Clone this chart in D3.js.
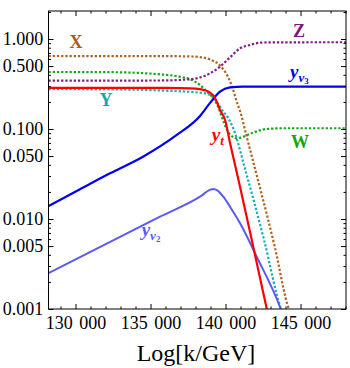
<!DOCTYPE html>
<html lang="en">
<head>
<meta charset="UTF-8" />
<title>Couplings vs Log[k/GeV]</title>
<script src="https://d3js.org/d3.v7.min.js"></script>
<style>
    body { margin: 0; background: #fff; }
    svg { display: block; }
    text { font-family: "Liberation Serif", "DejaVu Serif", serif; }
</style>
</head>
<body>
<svg id="chart" width="350" height="368"></svg>
<script>
    // Log[k/GeV] positions and values
    const kX = [128200, 136000, 137630, 138300, 138970, 139630, 140170, 140500, 140770, 140970, 141410, 143300, 144230, 144450];
    const vX = [0.647, 0.645, 0.640, 0.630, 0.592, 0.508, 0.378, 0.275, 0.195, 0.158, 0.0821, 0.00476, 0.001, 0.00085];

    const kZ = [128200, 135600, 137630, 138970, 139630, 140300, 140970, 141630, 142300, 143400, 148100];
    const vZ = [0.344, 0.346, 0.357, 0.416, 0.492, 0.625, 0.788, 0.858, 0.910, 0.919, 0.920];

    const kW = [128200, 132300, 135630, 136970, 137630, 138300, 138750, 139170, 139500, 139830, 140170, 140750, 141170, 141830, 142750, 144000, 148100];
    const vW = [0.430, 0.428, 0.405, 0.381, 0.357, 0.308, 0.260, 0.221, 0.177, 0.126, 0.0933, 0.0788, 0.0821, 0.0910, 0.100, 0.102, 0.102];

    const kY = [128200, 133000, 135630, 138300, 138970, 139410, 139770, 140170, 140630, 141230, 142570, 143700, 143900];
    const vY = [0.277, 0.275, 0.268, 0.253, 0.2385, 0.201, 0.163, 0.1325, 0.0903, 0.0398, 0.00584, 0.001, 0.00083];

    const kYt = [128200, 133000, 136000, 137630, 138300, 138970, 139300, 139500, 139630, 139970, 140300, 140970, 141750, 142750, 142950];
    const vYt = [0.287, 0.287, 0.286, 0.283, 0.277, 0.253, 0.221, 0.185, 0.163, 0.126, 0.070, 0.0227, 0.00584, 0.001, 0.0007];

    const kYv3 = [128200, 130300, 132300, 134500, 136750, 138300, 138970, 139630, 140300, 141170, 148100];
    const vYv3 = [0.0139, 0.0214, 0.0322, 0.0492, 0.0858, 0.1395, 0.195, 0.260, 0.290, 0.295, 0.295];

    const kYv2 = [128200, 135630, 138300, 139000, 139200, 139450, 139850, 140300, 140970, 142080, 143680, 143900];
    const vYv2 = [0.0025, 0.0106, 0.0177, 0.0212, 0.0216, 0.0208, 0.0177, 0.0137, 0.00896, 0.00381, 0.001, 0.00079];

    const xTickValues = [130000, 135000, 140000, 145000];
    const yTickValues = [0.001, 0.005, 0.01, 0.05, 0.1, 0.5, 1];

    const plotL = 48.5, plotR = 346, plotT = 11, plotB = 309;

    const svg = d3.select("#chart");

    const x = d3.scaleLinear().domain([128200, 148030]).range([plotL, plotR]);
    const y = d3.scaleLog().domain([0.001, 2.047]).range([plotB, plotT]);

    const xMinor = d3.range(129000, 148031, 1000).filter(v => v % 5000 !== 0);
    const yMinor = [];
    [0.001, 0.01, 0.1, 1].forEach(d => {
        [2, 3, 4, 6, 7, 8, 9].forEach(m => {
            const v = d * m;
            if (v < y.domain()[1]) yMinor.push(v);
        });
    });

    const fmtK = v => d3.format(",")(v).replace(",", " ");
    const fmtY = d3.format(".3f");

    function styleAxis(sel) {
        sel.select(".domain").remove();
        sel.selectAll("line").attr("stroke", "#000");
        sel.selectAll("text")
            .attr("font-family", "'Liberation Serif', serif")
            .attr("font-size", 18)
            .attr("fill", "#000");
    }

    // major ticks with labels
    svg.append("g")
        .attr("transform", `translate(0,${plotB})`)
        .call(d3.axisBottom(x).tickValues(xTickValues).tickSize(-5).tickPadding(7.5).tickFormat(fmtK))
        .call(styleAxis)
        .selectAll("text").attr("word-spacing", "2px");
    svg.append("g")
        .attr("transform", `translate(${plotL},0)`)
        .call(d3.axisLeft(y).tickValues(yTickValues).tickSize(-5).tickPadding(5.2).tickFormat(fmtY))
        .call(styleAxis);

    // mirrored and minor ticks
    svg.append("g").attr("transform", `translate(0,${plotT})`)
        .call(d3.axisTop(x).tickValues(xTickValues).tickSize(-5).tickFormat(""))
        .call(styleAxis);
    svg.append("g").attr("transform", `translate(${plotR},0)`)
        .call(d3.axisRight(y).tickValues(yTickValues).tickSize(-5).tickFormat(""))
        .call(styleAxis);
    svg.append("g").attr("transform", `translate(0,${plotB})`)
        .call(d3.axisBottom(x).tickValues(xMinor).tickSize(-2.5).tickFormat(""))
        .call(styleAxis);
    svg.append("g").attr("transform", `translate(0,${plotT})`)
        .call(d3.axisTop(x).tickValues(xMinor).tickSize(-2.5).tickFormat(""))
        .call(styleAxis);
    svg.append("g").attr("transform", `translate(${plotL},0)`)
        .call(d3.axisLeft(y).tickValues(yMinor).tickSize(-2.5).tickFormat(""))
        .call(styleAxis);
    svg.append("g").attr("transform", `translate(${plotR},0)`)
        .call(d3.axisRight(y).tickValues(yMinor).tickSize(-2.5).tickFormat(""))
        .call(styleAxis);

    svg.append("defs").append("clipPath").attr("id", "plot-clip")
        .append("rect")
        .attr("x", plotL).attr("y", plotT)
        .attr("width", plotR - plotL).attr("height", plotB - plotT);

    const line = d3.line()
        .x(d => x(d[0]))
        .y(d => y(d[1]))
        .curve(d3.curveMonotoneX);

    const series = [
        { k: kW, v: vW, color: "#16a816", dotted: true },
        { k: kZ, v: vZ, color: "#841a84", dotted: true },
        { k: kX, v: vX, color: "#b0631e", dotted: true },
        { k: kY, v: vY, color: "#18b0b0", dotted: true },
        { k: kYv2, v: vYv2, color: "#5a5af5", dotted: false, w: 2 },
        { k: kYv3, v: vYv3, color: "#0000f0", dotted: false, w: 2.2 },
        { k: kYt, v: vYt, color: "#ff0000", dotted: false, w: 2.2 }
    ];

    const plot = svg.append("g").attr("clip-path", "url(#plot-clip)");
    series.forEach(s => {
        plot.append("path")
            .datum(s.k.map((k, i) => [k, s.v[i]]))
            .attr("fill", "none")
            .attr("stroke", s.color)
            .attr("stroke-width", s.dotted ? 2.2 : s.w)
            .attr("stroke-dasharray", s.dotted ? "2.3,1.9" : null)
            .attr("d", line);
    });

    // frame
    svg.append("rect")
        .attr("x", plotL).attr("y", plotT)
        .attr("width", plotR - plotL).attr("height", plotB - plotT)
        .attr("fill", "none").attr("stroke", "#000").attr("stroke-width", 1);

    // curve labels
    function label(k, v, color, main, sub, subsub, anchor) {
        const t = svg.append("text")
            .attr("x", x(k)).attr("y", y(v))
            .attr("fill", color)
            .attr("font-weight", "bold")
            .attr("text-anchor", anchor || "middle");
        if (!sub) {
            t.attr("font-size", 18).text(main);
            return;
        }
        t.append("tspan").attr("font-size", 19).attr("font-style", "italic").text(main);
        t.append("tspan").attr("font-size", 13).attr("font-style", "italic").attr("dy", 4).text(sub);
        if (subsub) t.append("tspan").attr("font-size", 9).attr("dy", 2.5).text(subsub);
    }

    label(130030, 0.794, "#aa5c1a", "X");
    label(132040, 0.178, "#14a8a8", "Y");
    label(144900, 1.044, "#7f137f", "Z");
    label(144960, 0.0615, "#14a814", "W");
    label(139080, 0.0736, "#ff0000", "y", "t", null, "start");
    label(144300, 0.369, "#0000f0", "y", "ν", "3", "start");
    label(134410, 0.00648, "#5a5af5", "y", "ν", "2", "start");

    svg.append("text")
        .attr("x", 196).attr("y", 360.7)
        .attr("text-anchor", "middle")
        .attr("font-size", 24)
        .text("Log[k/GeV]");
</script>
</body>
</html>
